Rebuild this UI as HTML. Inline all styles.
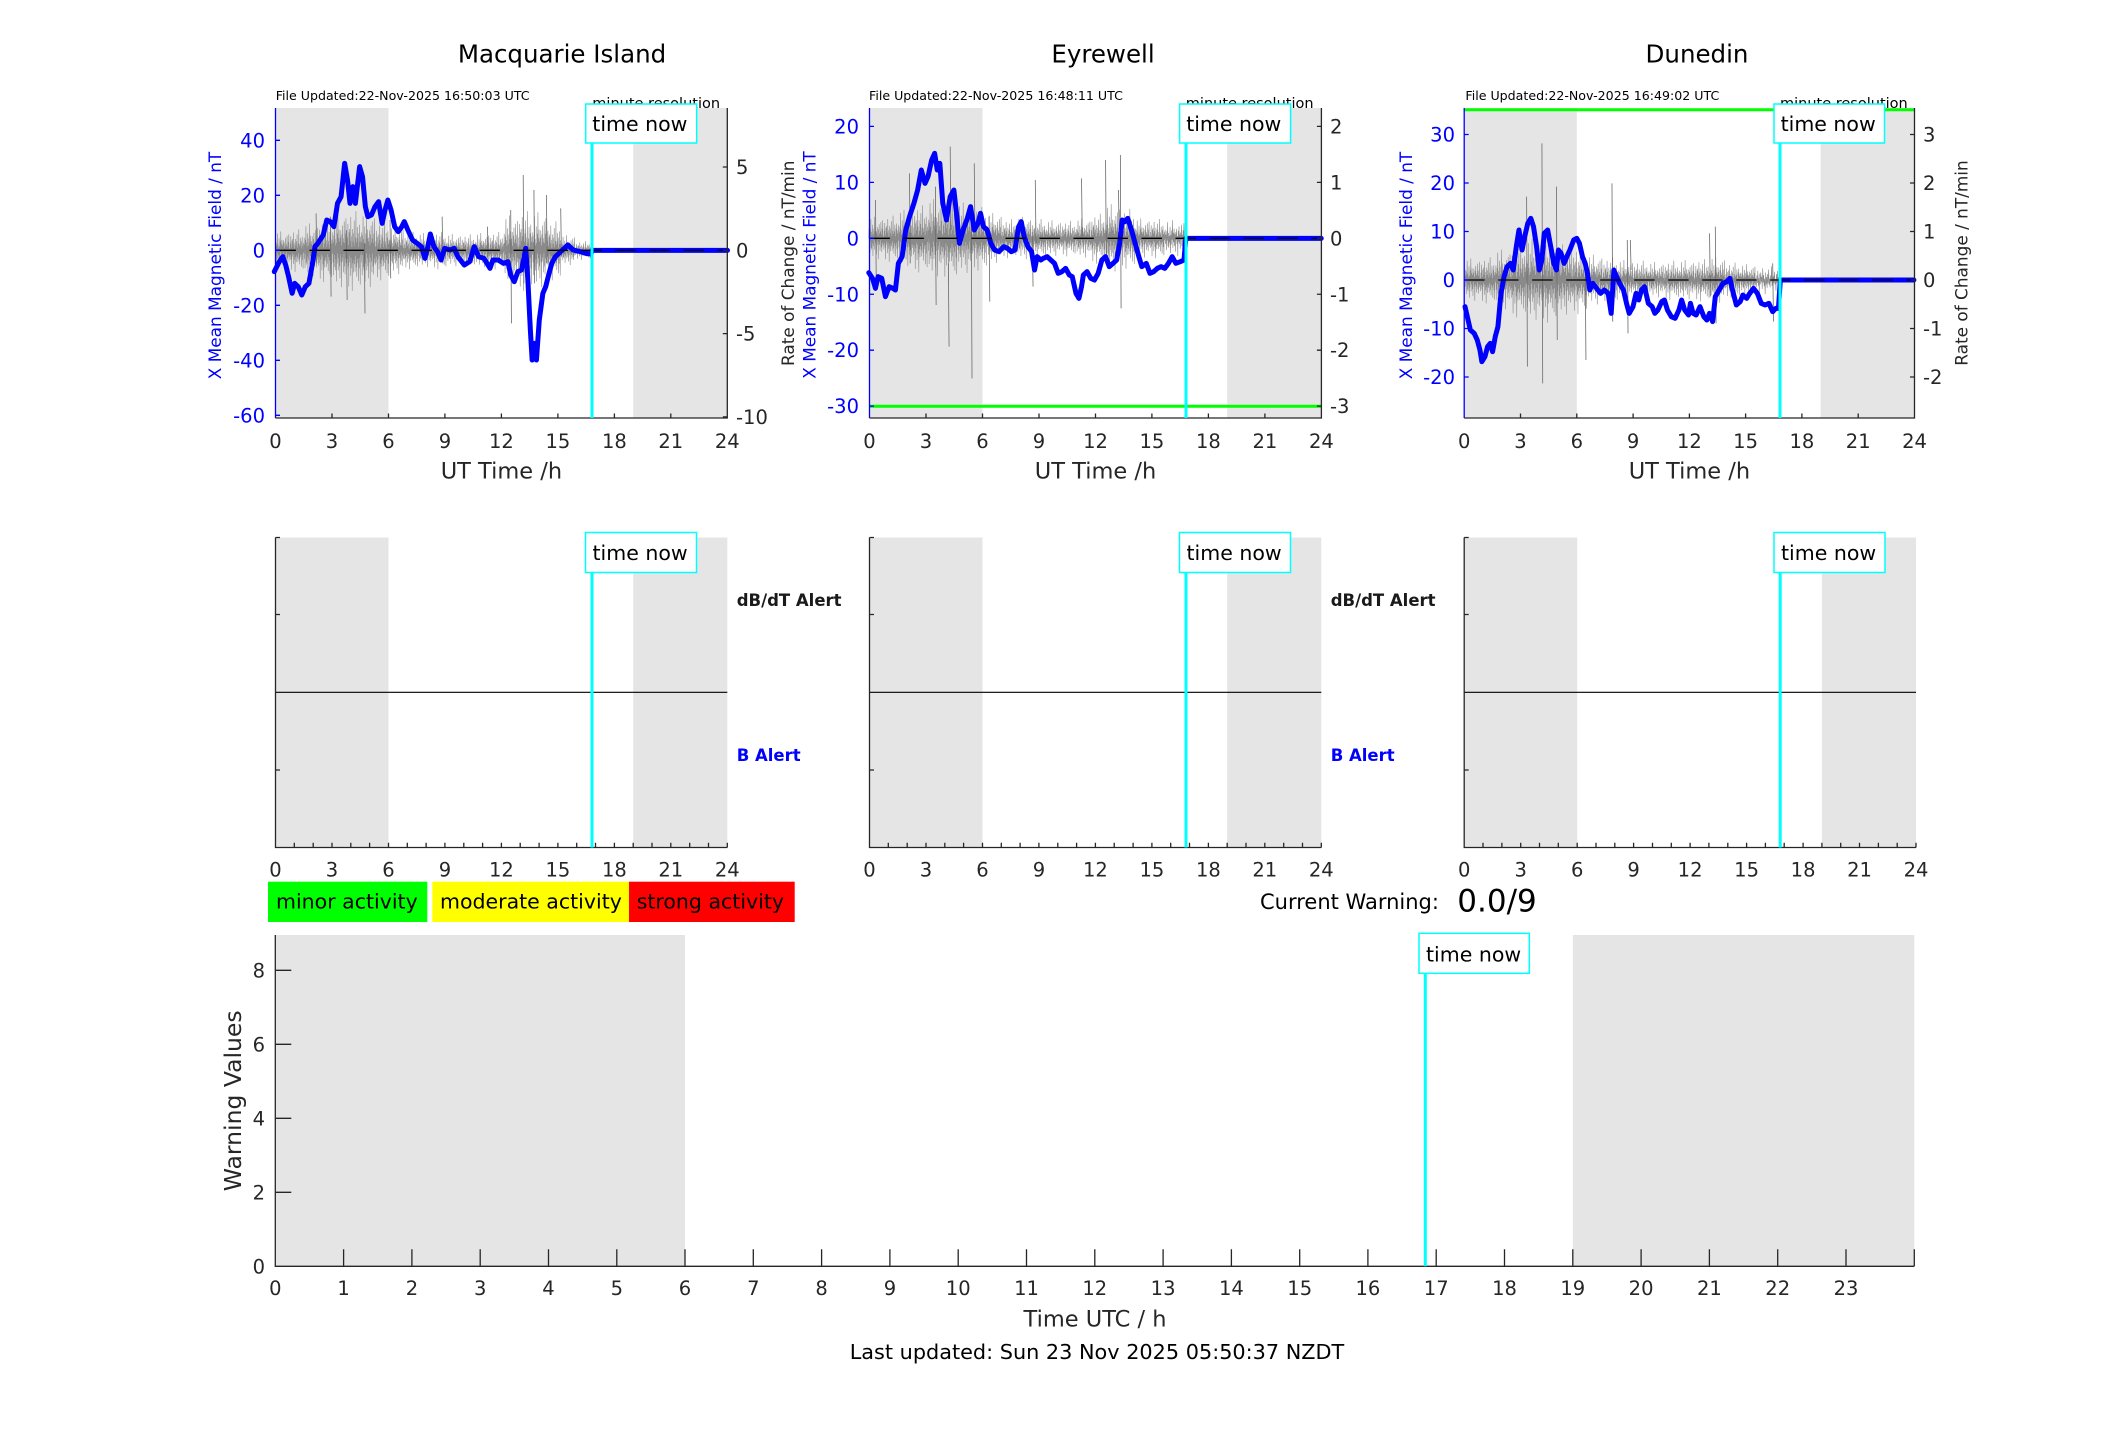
<!DOCTYPE html>
<html><head><meta charset="utf-8">
<style>
html,body{margin:0;padding:0;background:#fff;}
svg{display:block;}
text{font-family:"DejaVu Sans","Liberation Sans",sans-serif;}
.tk{font-size:19.5px;fill:#262626;}
.tb{font-size:19.5px;fill:#0000ff;}
.ax{stroke:#262626;stroke-width:1.3;fill:none;}
.axb{stroke:#0000ff;stroke-width:1.3;fill:none;}
.sh{fill:#e5e5e5;}
.bl{stroke:#0000ff;stroke-width:5;fill:none;stroke-linejoin:round;stroke-linecap:round;}
.sp{stroke:#6a6a6a;stroke-width:0.8;fill:none;}
.tn{fill:#fff;stroke:#00ffff;stroke-width:1.5;}
.tnt{font-size:20.5px;fill:#000;}
.cy{stroke:#00ffff;stroke-width:3;}
.fu{font-size:12.6px;fill:#000;}
.mr{font-size:14.5px;fill:#000;}
.ttl{font-size:24.5px;fill:#000;}
.xl{font-size:22.5px;fill:#262626;}
.yl{font-size:16.9px;}
.dz{stroke:#000;stroke-width:1.3;stroke-dasharray:20.4 13.6;}
.gr{stroke:#00ff00;stroke-width:3;}
.al{font-size:16.5px;font-weight:bold;}
.lg{font-size:20.5px;fill:#000;}
</style></head><body>
<svg width="2117" height="1437" viewBox="0 0 2117 1437" xmlns="http://www.w3.org/2000/svg">
<defs>
<path id="nz" fill="none" stroke="#8a8a8a" stroke-width="0.6" vector-effect="non-scaling-stroke" d="M0,0 L2,-0.45 4,0.3 6,-0.2 8,0.62 10,-0.38 12,0.12 14,-0.85 16,0.42 18,-0.28 20,0.5 22,-0.12 24,0.22 26,-0.6 28,0.78 30,-0.18 32,0.33 34,-0.42 36,0.08 38,-0.95 40,0.5 42,-0.3 44,0.2 46,-0.52 48,0.4 50,-0.22 52,0.7 54,-0.32 56,0.1 58,-0.5 60,0.3 62,-0.12 64,0.92 66,-0.4 68,0.18 70,-0.62 72,0.28 74,-0.2 76,0.55 78,-0.3 80,0.08 82,-0.72 84,0.4 86,-0.18 88,0.6 90,-0.42 92,0.2 94,-0.8 96,0.32 98,-0.1 100,0"/>
</defs>

<!-- ================= TOP PANEL 1: Macquarie Island ================= -->
<text class="ttl" x="562" y="62.5" text-anchor="middle">Macquarie Island</text>
<text class="fu" x="275.7" y="100">File Updated:22-Nov-2025 16:50:03 UTC</text>
<text class="mr" x="592.3" y="108">minute resolution</text>
<rect class="sh" x="275.5" y="108" width="113" height="310"/>
<rect class="sh" x="633.2" y="108" width="94.1" height="310"/>
<g transform="translate(200,30) scale(0.357143,0.333333)">
<use href="#nz" transform="translate(211,661) scale(0.4,60)"/>
<use href="#nz" transform="translate(251,661) scale(0.4,-68)"/>
<use href="#nz" transform="translate(291,661) scale(0.4,85)"/>
<use href="#nz" transform="translate(331,661) scale(0.4,-100)"/>
<use href="#nz" transform="translate(371,661) scale(0.4,120)"/>
<use href="#nz" transform="translate(411,661) scale(0.4,-128)"/>
<use href="#nz" transform="translate(451,661) scale(0.4,120)"/>
<use href="#nz" transform="translate(491,661) scale(0.4,-95)"/>
<use href="#nz" transform="translate(531,661) scale(0.4,78)"/>
<use href="#nz" transform="translate(571,661) scale(0.4,-60)"/>
<use href="#nz" transform="translate(611,661) scale(0.4,55)"/>
<use href="#nz" transform="translate(651,661) scale(0.4,-60)"/>
<use href="#nz" transform="translate(691,661) scale(0.4,52)"/>
<use href="#nz" transform="translate(731,661) scale(0.4,-52)"/>
<use href="#nz" transform="translate(771,661) scale(0.4,55)"/>
<use href="#nz" transform="translate(811,661) scale(0.4,-60)"/>
<use href="#nz" transform="translate(851,661) scale(0.4,110)"/>
<use href="#nz" transform="translate(891,661) scale(0.4,-128)"/>
<use href="#nz" transform="translate(931,661) scale(0.4,120)"/>
<use href="#nz" transform="translate(971,661) scale(0.4,-95)"/>
<use href="#nz" transform="translate(1011,661) scale(0.4,48)"/>
<use href="#nz" transform="translate(1051,661) scale(0.44,-30)"/>
<path class="sp" vector-effect="non-scaling-stroke" d="M325,550L327,700M365,560L367,800M410,600L412,810M460,640L462,850M532,570L534,745M678,560L680,700M805,590L807,700M870,540L872,880M905,435L907,760M935,480L937,760M970,495L972,700M1010,535L1012,680"/>
<path class="bl" vector-effect="non-scaling-stroke" d="M208,725 L222,695 232,680 240,705 248,740 258,790 265,760 275,770 285,795 295,770 305,760 315,700 322,650 330,640 345,615 355,570 365,575 375,590 385,520 395,500 405,400 413,450 420,520 428,470 435,520 447,410 455,440 463,530 470,560 480,555 490,530 500,515 510,580 518,540 526,510 535,540 545,590 555,605 565,590 572,575 582,600 595,630 608,640 620,650 630,685 638,650 645,612 655,650 665,665 675,690 685,655 700,660 712,655 722,680 740,705 755,695 768,650 780,680 795,685 812,715 820,690 835,690 850,700 862,695 870,735 880,755 890,725 900,720 905,695 912,655 918,750 925,900 930,990 937,940 942,990 950,870 960,790 968,770 975,740 985,700 995,680 1010,665 1030,645 1045,660 1065,665 1080,670 1095,672 1098,661 L1477,661"/>
</g>
<line class="dz" x1="275.5" y1="250.3" x2="727.3" y2="250.3"/>
<path class="axb" d="M275.5,108V418M275.5,140.3h4.5M275.5,195.3h4.5M275.5,250.3h4.5M275.5,305.3h4.5M275.5,360.3h4.5M275.5,415.3h4.5"/>
<path class="ax" d="M275.5,418H727.3V108M332,418v-4.5M388.5,418v-4.5M444.9,418v-4.5M501.4,418v-4.5M557.9,418v-4.5M614.4,418v-4.5M670.8,418v-4.5M727.3,167h-4.5M727.3,250.3h-4.5M727.3,333.6h-4.5M727.3,416.9h-4.5"/>
<line class="cy" x1="592" y1="143" x2="592" y2="418"/>
<rect class="tn" x="585.7" y="104" width="111" height="39"/>
<text class="tnt" x="592.3" y="131">time now</text>
<g class="tb" text-anchor="end">
<text x="265" y="147.3">40</text><text x="265" y="202.3">20</text><text x="265" y="257.3">0</text><text x="265" y="312.3">-20</text><text x="265" y="367.3">-40</text><text x="265" y="422.3">-60</text>
</g>
<g class="tk">
<text x="736" y="174">5</text><text x="736" y="257.3">0</text><text x="736" y="340.6">-5</text><text x="736" y="423.9">-10</text>
</g>
<g class="tk" text-anchor="middle">
<text x="275.5" y="448">0</text><text x="332" y="448">3</text><text x="388.5" y="448">6</text><text x="444.9" y="448">9</text><text x="501.4" y="448">12</text><text x="557.9" y="448">15</text><text x="614.4" y="448">18</text><text x="670.8" y="448">21</text><text x="727.3" y="448">24</text>
</g>
<text class="xl" x="501.4" y="478.7" text-anchor="middle">UT Time /h</text>
<text class="yl" fill="#0000ff" transform="translate(221,265.5) rotate(-90)" text-anchor="middle">X Mean Magnetic Field / nT</text>

<!-- ================= TOP PANEL 2: Eyrewell ================= -->
<text class="ttl" x="1103" y="62.5" text-anchor="middle">Eyrewell</text>
<text class="fu" x="869" y="100">File Updated:22-Nov-2025 16:48:11 UTC</text>
<text class="mr" x="1185.8" y="108">minute resolution</text>
<rect class="sh" x="869.5" y="108" width="113" height="310"/>
<rect class="sh" x="1227.2" y="108" width="94.2" height="310"/>
<line class="gr" x1="869.5" y1="406.2" x2="1321.4" y2="406.2"/>
<g transform="translate(780,30) scale(0.369963,0.333333)">
<use href="#nz" transform="translate(240,625) scale(0.4,68)"/>
<use href="#nz" transform="translate(280,625) scale(0.4,-74)"/>
<use href="#nz" transform="translate(320,625) scale(0.4,90)"/>
<use href="#nz" transform="translate(360,625) scale(0.4,-108)"/>
<use href="#nz" transform="translate(400,625) scale(0.4,124)"/>
<use href="#nz" transform="translate(440,625) scale(0.4,-135)"/>
<use href="#nz" transform="translate(480,625) scale(0.4,113)"/>
<use href="#nz" transform="translate(520,625) scale(0.4,-102)"/>
<use href="#nz" transform="translate(560,625) scale(0.4,80)"/>
<use href="#nz" transform="translate(600,625) scale(0.4,-63)"/>
<use href="#nz" transform="translate(640,625) scale(0.4,68)"/>
<use href="#nz" transform="translate(680,625) scale(0.4,-63)"/>
<use href="#nz" transform="translate(720,625) scale(0.4,57)"/>
<use href="#nz" transform="translate(760,625) scale(0.4,-57)"/>
<use href="#nz" transform="translate(800,625) scale(0.4,63)"/>
<use href="#nz" transform="translate(840,625) scale(0.4,-80)"/>
<use href="#nz" transform="translate(880,625) scale(0.4,108)"/>
<use href="#nz" transform="translate(920,625) scale(0.4,-96)"/>
<use href="#nz" transform="translate(960,625) scale(0.4,63)"/>
<use href="#nz" transform="translate(1000,625) scale(0.4,-63)"/>
<use href="#nz" transform="translate(1040,625) scale(0.55,57)"/>
<path class="sp" vector-effect="non-scaling-stroke" d="M258,510L260,735M350,430L352,700M420,470L422,825M455,700L457,950M460,350L462,600M517,560L519,1045M525,400L527,620M565,560L567,815M690,450L692,640M682,620L684,770M815,445L817,620M880,390L882,700M920,375L922,835M915,480L917,640"/>
<path class="bl" vector-effect="non-scaling-stroke" d="M240,728 L250,745 258,775 265,740 275,745 285,800 295,770 305,775 312,780 320,700 330,680 340,600 350,560 362,520 372,480 382,420 392,460 400,440 410,390 418,370 425,420 432,400 440,520 450,570 460,500 470,480 478,560 485,640 495,600 505,570 515,530 525,600 535,580 542,550 550,590 560,600 570,640 580,660 592,665 605,650 615,655 625,665 635,660 645,590 652,575 660,620 670,650 680,665 688,720 695,680 705,690 712,685 722,680 732,690 742,700 752,730 762,725 772,715 782,735 790,740 800,790 808,805 815,770 820,735 830,725 840,745 850,750 860,730 870,690 880,680 890,710 900,700 910,690 918,640 925,570 932,575 940,565 950,600 960,640 970,680 978,710 990,700 1000,730 1010,725 1020,715 1030,710 1040,715 1050,700 1060,680 1070,700 1082,695 1092,690 1097,625 L1463,625"/>
</g>
<line class="dz" x1="869.5" y1="238.3" x2="1321.4" y2="238.3"/>
<path class="axb" d="M869.5,108V418M869.5,126.4h4.5M869.5,182.35h4.5M869.5,238.3h4.5M869.5,294.25h4.5M869.5,350.2h4.5M869.5,406.15h4.5"/>
<path class="ax" d="M869.5,418H1321.4V108M926,418v-4.5M982.5,418v-4.5M1039,418v-4.5M1095.5,418v-4.5M1151.9,418v-4.5M1208.4,418v-4.5M1264.9,418v-4.5M1321.4,126.4h-4.5M1321.4,182.35h-4.5M1321.4,238.3h-4.5M1321.4,294.25h-4.5M1321.4,350.2h-4.5M1321.4,406.15h-4.5"/>
<line class="cy" x1="1186" y1="143" x2="1186" y2="418"/>
<rect class="tn" x="1179.6" y="104" width="111" height="39"/>
<text class="tnt" x="1186.2" y="131">time now</text>
<g class="tb" text-anchor="end">
<text x="859" y="133.4">20</text><text x="859" y="189.35">10</text><text x="859" y="245.3">0</text><text x="859" y="301.25">-10</text><text x="859" y="357.2">-20</text><text x="859" y="413.15">-30</text>
</g>
<g class="tk">
<text x="1330" y="133.4">2</text><text x="1330" y="189.35">1</text><text x="1330" y="245.3">0</text><text x="1330" y="301.25">-1</text><text x="1330" y="357.2">-2</text><text x="1330" y="413.15">-3</text>
</g>
<g class="tk" text-anchor="middle">
<text x="869.5" y="448">0</text><text x="926" y="448">3</text><text x="982.5" y="448">6</text><text x="1039" y="448">9</text><text x="1095.5" y="448">12</text><text x="1151.9" y="448">15</text><text x="1208.4" y="448">18</text><text x="1264.9" y="448">21</text><text x="1321.4" y="448">24</text>
</g>
<text class="xl" x="1095.5" y="478.7" text-anchor="middle">UT Time /h</text>
<text class="yl" fill="#262626" transform="translate(794,263.3) rotate(-90)" text-anchor="middle">Rate of Change / nT/min</text>
<text class="yl" fill="#0000ff" transform="translate(815.6,265) rotate(-90)" text-anchor="middle">X Mean Magnetic Field / nT</text>

<!-- ================= TOP PANEL 3: Dunedin ================= -->
<text class="ttl" x="1697" y="62.5" text-anchor="middle">Dunedin</text>
<text class="fu" x="1465.4" y="100">File Updated:22-Nov-2025 16:49:02 UTC</text>
<text class="mr" x="1780" y="108">minute resolution</text>
<rect class="sh" x="1464.2" y="108" width="112.6" height="310"/>
<rect class="sh" x="1820.6" y="108" width="93.9" height="310"/>
<line class="gr" x1="1464.2" y1="109.8" x2="1914.5" y2="109.8"/>
<g transform="translate(1390,30) scale(0.382701,0.333333)">
<use href="#nz" transform="translate(196,750) scale(0.4,68)"/>
<use href="#nz" transform="translate(236,750) scale(0.4,-74)"/>
<use href="#nz" transform="translate(276,750) scale(0.4,96)"/>
<use href="#nz" transform="translate(316,750) scale(0.4,-118)"/>
<use href="#nz" transform="translate(356,750) scale(0.4,130)"/>
<use href="#nz" transform="translate(396,750) scale(0.4,-135)"/>
<use href="#nz" transform="translate(436,750) scale(0.4,113)"/>
<use href="#nz" transform="translate(476,750) scale(0.4,-108)"/>
<use href="#nz" transform="translate(516,750) scale(0.4,80)"/>
<use href="#nz" transform="translate(556,750) scale(0.4,-74)"/>
<use href="#nz" transform="translate(596,750) scale(0.4,63)"/>
<use href="#nz" transform="translate(636,750) scale(0.4,-63)"/>
<use href="#nz" transform="translate(676,750) scale(0.4,57)"/>
<use href="#nz" transform="translate(716,750) scale(0.4,-63)"/>
<use href="#nz" transform="translate(756,750) scale(0.4,63)"/>
<use href="#nz" transform="translate(796,750) scale(0.4,-68)"/>
<use href="#nz" transform="translate(836,750) scale(0.4,74)"/>
<use href="#nz" transform="translate(876,750) scale(0.4,-57)"/>
<use href="#nz" transform="translate(916,750) scale(0.4,50)"/>
<use href="#nz" transform="translate(956,750) scale(0.64,-45)"/>
<path class="sp" vector-effect="non-scaling-stroke" d="M397,340L399,1060M357,500L359,1010M435,470L437,930M510,690L512,990M580,460L582,875M620,630L622,910M628,630L630,720M850,590L852,880M835,610L837,800M1000,700L1002,875"/>
<path class="bl" vector-effect="non-scaling-stroke" d="M196,830 L202,860 210,900 220,910 228,930 235,960 240,995 248,980 255,950 262,940 268,965 275,920 282,890 290,790 298,740 306,710 315,700 322,720 330,650 337,600 345,660 352,620 360,580 368,565 375,590 383,650 390,720 397,690 403,610 412,600 420,650 428,700 435,720 440,660 447,670 455,700 462,680 470,660 480,630 488,625 495,640 503,680 510,700 516,730 522,780 530,760 540,775 550,790 560,780 570,790 578,850 585,720 592,740 600,760 610,780 618,820 625,850 635,830 643,790 650,810 657,780 665,770 675,820 685,830 692,850 700,840 710,815 717,810 725,840 735,860 745,865 755,840 762,810 770,840 780,855 785,820 792,850 800,855 810,830 820,860 828,870 835,850 843,875 850,800 860,780 870,760 880,755 888,745 895,780 905,825 915,815 922,795 932,805 940,790 950,775 960,790 970,820 980,825 990,820 1000,845 1008,835 1015,835 1020,750 L1369,750"/>
</g>
<line class="dz" x1="1464.2" y1="280" x2="1914.5" y2="280"/>
<path class="axb" d="M1464.2,108V418M1464.2,134.5h4.5M1464.2,183h4.5M1464.2,231.5h4.5M1464.2,280h4.5M1464.2,328.5h4.5M1464.2,377h4.5"/>
<path class="ax" d="M1464.2,418H1914.5V108M1520.5,418v-4.5M1576.8,418v-4.5M1633.1,418v-4.5M1689.4,418v-4.5M1745.6,418v-4.5M1801.9,418v-4.5M1858.2,418v-4.5M1914.5,134.5h-4.5M1914.5,183h-4.5M1914.5,231.5h-4.5M1914.5,280h-4.5M1914.5,328.5h-4.5M1914.5,377h-4.5"/>
<line class="cy" x1="1780" y1="143" x2="1780" y2="418"/>
<rect class="tn" x="1774" y="104" width="110.5" height="39"/>
<text class="tnt" x="1780.6" y="131">time now</text>
<g class="tb" text-anchor="end">
<text x="1455" y="141.5">30</text><text x="1455" y="190">20</text><text x="1455" y="238.5">10</text><text x="1455" y="287">0</text><text x="1455" y="335.5">-10</text><text x="1455" y="384">-20</text>
</g>
<g class="tk">
<text x="1923" y="141.5">3</text><text x="1923" y="190">2</text><text x="1923" y="238.5">1</text><text x="1923" y="287">0</text><text x="1923" y="335.5">-1</text><text x="1923" y="384">-2</text>
</g>
<g class="tk" text-anchor="middle">
<text x="1464.2" y="448">0</text><text x="1520.5" y="448">3</text><text x="1576.8" y="448">6</text><text x="1633.1" y="448">9</text><text x="1689.4" y="448">12</text><text x="1745.6" y="448">15</text><text x="1801.9" y="448">18</text><text x="1858.2" y="448">21</text><text x="1914.5" y="448">24</text>
</g>
<text class="xl" x="1689.4" y="478.7" text-anchor="middle">UT Time /h</text>
<text class="yl" fill="#0000ff" transform="translate(1412,265.5) rotate(-90)" text-anchor="middle">X Mean Magnetic Field / nT</text>
<text class="yl" fill="#262626" transform="translate(1967.4,263) rotate(-90)" text-anchor="middle">Rate of Change / nT/min</text>

<!-- ================= MIDDLE ROW ================= -->
<g>
<rect class="sh" x="275.5" y="537.5" width="113" height="310"/>
<rect class="sh" x="633.2" y="537.5" width="94.1" height="310"/>
<line x1="275.5" y1="692.3" x2="727.3" y2="692.3" stroke="#000" stroke-width="1.2"/>
<path class="ax" d="M275.5,537.5V847.5H727.3M275.5,537.5h4.5M275.5,614.5h4.5M275.5,770h4.5M294.3,847.5v-4.7M313.2,847.5v-4.7M332,847.5v-4.7M350.8,847.5v-4.7M369.6,847.5v-4.7M388.5,847.5v-4.7M407.3,847.5v-4.7M426.1,847.5v-4.7M444.9,847.5v-4.7M463.8,847.5v-4.7M482.6,847.5v-4.7M501.4,847.5v-4.7M520.2,847.5v-4.7M539.1,847.5v-4.7M557.9,847.5v-4.7M576.7,847.5v-4.7M595.5,847.5v-4.7M614.4,847.5v-4.7M633.2,847.5v-4.7M652,847.5v-4.7M670.8,847.5v-4.7M689.7,847.5v-4.7M708.5,847.5v-4.7M727.3,847.5v-4.7"/>
<line class="cy" x1="592" y1="572.7" x2="592" y2="847.5"/>
<rect class="tn" x="585.5" y="532.5" width="111" height="40"/>
<text class="tnt" x="592.5" y="560">time now</text>
<g class="tk" text-anchor="middle">
<text x="275.5" y="876.7">0</text><text x="332" y="876.7">3</text><text x="388.5" y="876.7">6</text><text x="444.9" y="876.7">9</text><text x="501.4" y="876.7">12</text><text x="557.9" y="876.7">15</text><text x="614.4" y="876.7">18</text><text x="670.8" y="876.7">21</text><text x="727.3" y="876.7">24</text>
</g>
<text class="al" x="736.7" y="606" fill="#1a1a1a">dB/dT Alert</text>
<text class="al" x="736.7" y="761" fill="#0000ff">B Alert</text>
</g>
<g transform="translate(594,0)">
<rect class="sh" x="275.5" y="537.5" width="113" height="310"/>
<rect class="sh" x="633.2" y="537.5" width="94.1" height="310"/>
<line x1="275.5" y1="692.3" x2="727.3" y2="692.3" stroke="#000" stroke-width="1.2"/>
<path class="ax" d="M275.5,537.5V847.5H727.3M275.5,537.5h4.5M275.5,614.5h4.5M275.5,770h4.5M294.3,847.5v-4.7M313.2,847.5v-4.7M332,847.5v-4.7M350.8,847.5v-4.7M369.6,847.5v-4.7M388.5,847.5v-4.7M407.3,847.5v-4.7M426.1,847.5v-4.7M444.9,847.5v-4.7M463.8,847.5v-4.7M482.6,847.5v-4.7M501.4,847.5v-4.7M520.2,847.5v-4.7M539.1,847.5v-4.7M557.9,847.5v-4.7M576.7,847.5v-4.7M595.5,847.5v-4.7M614.4,847.5v-4.7M633.2,847.5v-4.7M652,847.5v-4.7M670.8,847.5v-4.7M689.7,847.5v-4.7M708.5,847.5v-4.7M727.3,847.5v-4.7"/>
<line class="cy" x1="592" y1="572.7" x2="592" y2="847.5"/>
<rect class="tn" x="585.5" y="532.5" width="111" height="40"/>
<text class="tnt" x="592.5" y="560">time now</text>
<g class="tk" text-anchor="middle">
<text x="275.5" y="876.7">0</text><text x="332" y="876.7">3</text><text x="388.5" y="876.7">6</text><text x="444.9" y="876.7">9</text><text x="501.4" y="876.7">12</text><text x="557.9" y="876.7">15</text><text x="614.4" y="876.7">18</text><text x="670.8" y="876.7">21</text><text x="727.3" y="876.7">24</text>
</g>
<text class="al" x="736.7" y="606" fill="#1a1a1a">dB/dT Alert</text>
<text class="al" x="736.7" y="761" fill="#0000ff">B Alert</text>
</g>
<g transform="translate(1188.7,0)">
<rect class="sh" x="275.5" y="537.5" width="113" height="310"/>
<rect class="sh" x="633.2" y="537.5" width="94.1" height="310"/>
<line x1="275.5" y1="692.3" x2="727.3" y2="692.3" stroke="#000" stroke-width="1.2"/>
<path class="ax" d="M275.5,537.5V847.5H727.3M275.5,537.5h4.5M275.5,614.5h4.5M275.5,770h4.5M294.3,847.5v-4.7M313.2,847.5v-4.7M332,847.5v-4.7M350.8,847.5v-4.7M369.6,847.5v-4.7M388.5,847.5v-4.7M407.3,847.5v-4.7M426.1,847.5v-4.7M444.9,847.5v-4.7M463.8,847.5v-4.7M482.6,847.5v-4.7M501.4,847.5v-4.7M520.2,847.5v-4.7M539.1,847.5v-4.7M557.9,847.5v-4.7M576.7,847.5v-4.7M595.5,847.5v-4.7M614.4,847.5v-4.7M633.2,847.5v-4.7M652,847.5v-4.7M670.8,847.5v-4.7M689.7,847.5v-4.7M708.5,847.5v-4.7M727.3,847.5v-4.7"/>
<line class="cy" x1="591.5" y1="572.7" x2="591.5" y2="847.5"/>
<rect class="tn" x="585.3" y="532.5" width="111" height="40"/>
<text class="tnt" x="592.3" y="560">time now</text>
<g class="tk" text-anchor="middle">
<text x="275.5" y="876.7">0</text><text x="332" y="876.7">3</text><text x="388.5" y="876.7">6</text><text x="444.9" y="876.7">9</text><text x="501.4" y="876.7">12</text><text x="557.9" y="876.7">15</text><text x="614.4" y="876.7">18</text><text x="670.8" y="876.7">21</text><text x="727.3" y="876.7">24</text>
</g>
</g>

<!-- ================= LEGEND & CURRENT WARNING ================= -->
<rect x="268" y="881.7" width="159.3" height="40.3" fill="#00ff00"/>
<rect x="432.3" y="881.7" width="196.7" height="40.3" fill="#ffff00"/>
<rect x="629" y="881.7" width="165.7" height="40.3" fill="#ff0000"/>
<text class="lg" x="276" y="908.5">minor activity</text>
<text class="lg" x="440" y="908.5">moderate activity</text>
<text class="lg" x="636.7" y="908.5">strong activity</text>
<text x="1260" y="909" style="font-size:21px;fill:#000">Current Warning:</text>
<text x="1457.3" y="911.7" style="font-size:31px;fill:#000">0.0/9</text>

<!-- ================= BOTTOM PANEL ================= -->
<rect class="sh" x="275.3" y="935" width="409.7" height="331.3"/>
<rect class="sh" x="1572.8" y="935" width="341.5" height="331.3"/>
<path class="ax" d="M275.3,935V1266.3H1914.3M275.3,1192.3h16M275.3,1118.3h16M275.3,1044.3h16M275.3,970.3h16M343.6,1266.3v-17M411.9,1266.3v-17M480.2,1266.3v-17M548.5,1266.3v-17M616.8,1266.3v-17M685,1266.3v-17M753.3,1266.3v-17M821.6,1266.3v-17M889.9,1266.3v-17M958.2,1266.3v-17M1026.5,1266.3v-17M1094.8,1266.3v-17M1163.1,1266.3v-17M1231.4,1266.3v-17M1299.7,1266.3v-17M1367.9,1266.3v-17M1436.2,1266.3v-17M1504.5,1266.3v-17M1572.8,1266.3v-17M1641.1,1266.3v-17M1709.4,1266.3v-17M1777.7,1266.3v-17M1846,1266.3v-17M1914.3,1266.3v-17"/>
<line class="cy" x1="1425.3" y1="973.3" x2="1425.3" y2="1266.3"/>
<rect class="tn" x="1419" y="933.3" width="110.3" height="40"/>
<text class="tnt" x="1426" y="961.7">time now</text>
<g class="tk" text-anchor="end">
<text x="265" y="1273.3">0</text><text x="265" y="1199.3">2</text><text x="265" y="1125.3">4</text><text x="265" y="1051.3">6</text><text x="265" y="977.3">8</text>
</g>
<g class="tk" text-anchor="middle">
<text x="275.3" y="1295">0</text><text x="343.6" y="1295">1</text><text x="411.9" y="1295">2</text><text x="480.2" y="1295">3</text><text x="548.5" y="1295">4</text><text x="616.8" y="1295">5</text><text x="685" y="1295">6</text><text x="753.3" y="1295">7</text><text x="821.6" y="1295">8</text><text x="889.9" y="1295">9</text><text x="958.2" y="1295">10</text><text x="1026.5" y="1295">11</text><text x="1094.8" y="1295">12</text><text x="1163.1" y="1295">13</text><text x="1231.4" y="1295">14</text><text x="1299.7" y="1295">15</text><text x="1367.9" y="1295">16</text><text x="1436.2" y="1295">17</text><text x="1504.5" y="1295">18</text><text x="1572.8" y="1295">19</text><text x="1641.1" y="1295">20</text><text x="1709.4" y="1295">21</text><text x="1777.7" y="1295">22</text><text x="1846" y="1295">23</text>
</g>
<text transform="translate(241,1100.8) rotate(-90)" text-anchor="middle" style="font-size:23.5px;fill:#262626">Warning Values</text>
<text class="xl" x="1095" y="1326.7" text-anchor="middle">Time UTC / h</text>
<text x="1097" y="1359" text-anchor="middle" style="font-size:20.8px;fill:#000">Last updated: Sun 23 Nov 2025 05:50:37 NZDT</text>
</svg>
</body></html>
